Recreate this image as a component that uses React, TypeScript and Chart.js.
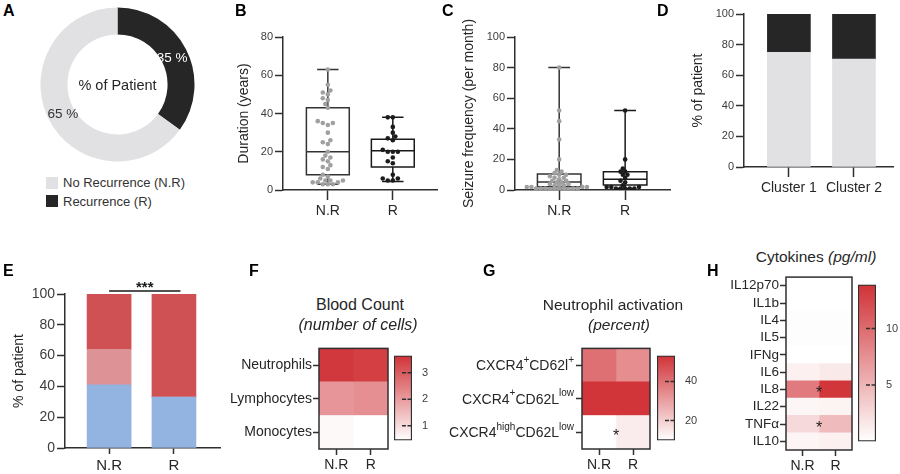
import React, { useEffect, useRef } from 'react';
import { Chart, registerables } from 'chart.js';

Chart.register(...registerables);

const FONT = '"Liberation Sans", Arial, Helvetica, sans-serif';
const AXIS = '#2f2f2f';
const TICK = '#3d3d3d';
const LABEL = '#262626';
Chart.defaults.font.family = FONT;
Chart.defaults.color = TICK;
Chart.defaults.maintainAspectRatio = false;

// ---------------- data ----------------
// A
const patientGroups = ['Recurrence (R)', 'No Recurrence (N.R)'];
const patientShare = [35, 65];
const patientColors = ['#262626', '#e1e1e3'];
const patientTextColors = ['#ffffff', '#333333'];
const legendGroups = ['No Recurrence (N.R)', 'Recurrence (R)'];
const legendColors = ['#e1e1e3', '#262626'];

// shared groups
const groupLabels = ['N.R', 'R'];

// B
const durationNR = [63, 55, 52, 51, 50, 48, 47, 45, 43, 36, 35, 35, 34, 30, 26, 25, 24, 20, 18, 17, 16, 15, 13, 12, 11, 8, 7, 6, 5, 5, 5, 4, 4, 4, 3, 3, 3];
const durationR = [38, 38, 33, 30, 28, 27, 26, 21, 20, 20, 20, 17, 15, 14, 8, 6, 6, 5, 5];
const durationBoxNR = [3, 8, 20, 43, 63]; // min, q1, median, q3, max
const durationBoxR = [4.5, 12, 20.5, 26.5, 38];
const durationTicks = [0, 20, 40, 60, 80];

// C
const seizureNR = [80, 52, 45, 33, 20, 13, 12, 11, 10, 10, 9, 8, 8, 7, 6, 6, 5, 5, 4, 4, 3, 3, 3, 2, 2, 2, 2, 1, 1, 1, 1, 1, 0.5, 0.5, 0.5, 0.5, 0.5];
const seizureR = [52, 20, 14, 12, 12, 10, 10, 8, 6, 5, 3, 2, 2, 2, 1, 1, 1, 1, 1];
const seizureBoxNR = [0.5, 2.2, 5.3, 10.5, 80];
const seizureBoxR = [1, 3.3, 7, 12, 52];
const percentTicks = [0, 20, 40, 60, 80, 100];

// D
const clusterLabels = ['Cluster 1', 'Cluster 2'];
const clusterNoRecurrence = [75, 70.5];
const clusterRecurrence = [25, 29.5];

// E
const profileBlue = [41, 33];
const profilePink = [23, 0];
const profileRed = [36, 67];
const significanceSpan = [0, 1.1];
const significanceText = '***';

// F
const bloodRows = ['Neutrophils', 'Lymphocytes', 'Monocytes'];
const bloodNR = [3.55, 2.1, 0.55];
const bloodR = [3.45, 2.2, 0.45];
const bloodRange = [0.45, 3.65];
const bloodTicks = [1, 2, 3];

// G
const activationRows = ['CXCR4+CD62l+', 'CXCR4+CD62Llow', 'CXCR4highCD62Llow'];
const activationLabelParts: [string, boolean][][] = [
  [['CXCR4', false], ['+', true], ['CD62l', false], ['+', true]],
  [['CXCR4', false], ['+', true], ['CD62L', false], ['low', true]],
  [['CXCR4', false], ['high', true], ['CD62L', false], ['low', true]],
];
const activationNR = [40, 52.5, 9.8];
const activationR = [34, 52.5, 14];
const activationRange = [9.8, 53.2];
const activationTicks = [20, 40];
const activationStars = ['CXCR4highCD62Llow'];

// H
const cytokineRows = ['IL12p70', 'IL1b', 'IL4', 'IL5', 'IFNg', 'IL6', 'IL8', 'IL22', 'TNFα', 'IL10'];
const cytokineNR = [0, 0, 0.15, 0.15, 0, 1.0, 9.0, 0.6, 2.6, 0.7];
const cytokineR = [0, 0, 0.15, 0.15, 0, 1.5, 13.6, 0.8, 4.6, 1.0];
const cytokineRange = [0, 13.9];
const cytokineTicks = [5, 10];
const cytokineStars = ['IL8', 'TNFα'];

// ---------------- helpers ----------------
type Box = [number, number, number, number];
type Area = { l: number; t: number; r: number; b: number };

const HOT = [208, 50, 55];
function heat(v: number, range: number[]) {
  const t = Math.max(0, Math.min(1, (v - range[0]) / (range[1] - range[0])));
  const c = HOT.map((h) => Math.round(255 + (h - 255) * t));
  return `rgb(${c[0]},${c[1]},${c[2]})`;
}

function swarm(values: number[], group: number, pxPerY: number, pxPerX = 65, d = 4.2) {
  const placed: { px: number; py: number }[] = [];
  const out: { x: number; y: number }[] = [];
  [...values].sort((a, b) => a - b).forEach((v) => {
    const py = v * pxPerY;
    for (let k = 0; k < 60; k++) {
      const px = (k % 2 === 0 ? 1 : -1) * Math.ceil(k / 2) * d * 0.6;
      if (placed.every((p) => Math.hypot(p.px - px, p.py - py) >= d)) {
        placed.push({ px, py });
        out.push({ x: group + px / pxPerX, y: v });
        break;
      }
    }
  });
  return out;
}

function cartesian(area: Area, titleX: number, titleSize: number, hx: number, padTop = 12) {
  const scaleLeft = titleX - (titleSize * 1.2) / 2;
  const cx = Math.floor(scaleLeft - 3);
  const cy = area.t - padTop;
  const box: Box = [cx, cy, Math.ceil(area.r + 6 - cx), Math.ceil(area.b + hx + 4 - cy)];
  const padding = {
    left: scaleLeft - cx,
    top: padTop,
    right: box[0] + box[2] - area.r,
    bottom: box[1] + box[3] - area.b - hx,
  };
  return { box, padding, wy: area.l - scaleLeft, hx, area };
}

function yAxis(min: number, max: number, ticks: number[], title: string, wy: number, tickSize: number) {
  return {
    type: 'linear',
    min,
    max,
    afterBuildTicks: (s: any) => {
      s.ticks = ticks.map((v) => ({ value: v }));
    },
    afterFit: (s: any) => {
      s.width = wy;
    },
    ticks: { color: TICK, font: { family: FONT, size: tickSize }, padding: 2 },
    grid: { drawOnChartArea: false, drawTicks: true, tickLength: 8, tickColor: AXIS, tickWidth: 1.5 },
    border: { display: true, color: AXIS, width: 1.5 },
    title: { display: true, text: title, color: LABEL, font: { family: FONT, size: 14 }, padding: 0 },
  };
}

function xAxis(min: number, max: number, labels: string[], hx: number, size: number) {
  return {
    type: 'linear',
    min,
    max,
    offset: false,
    afterBuildTicks: (s: any) => {
      s.ticks = labels.map((_, i) => ({ value: i }));
    },
    afterFit: (s: any) => {
      s.height = hx;
    },
    ticks: {
      callback: (v: any) => labels[Math.round(Number(v))] ?? '',
      color: LABEL,
      font: { family: FONT, size },
      padding: 3,
      maxRotation: 0,
      autoSkip: false,
    },
    grid: { drawOnChartArea: false, offset: false, drawTicks: true, tickLength: 10, tickColor: AXIS, tickWidth: 1.5 },
    border: { display: true, color: AXIS, width: 1.5 },
  };
}

const quiet = { legend: { display: false }, tooltip: { enabled: false } };

// ---------------- plugins ----------------
const donutText = {
  id: 'donutText',
  afterDraw(chart: any) {
    const { ctx } = chart;
    const meta = chart.getDatasetMeta(0);
    ctx.save();
    ctx.textAlign = 'center';
    ctx.textBaseline = 'middle';
    meta.data.forEach((arc: any, i: number) => {
      const p = arc.getProps(['x', 'y', 'startAngle', 'endAngle', 'innerRadius', 'outerRadius']);
      const a = (p.startAngle + p.endAngle) / 2;
      const rr = p.innerRadius + (p.outerRadius - p.innerRadius) * 0.42;
      ctx.fillStyle = patientTextColors[i];
      ctx.font = `13.5px ${FONT}`;
      ctx.fillText(`${chart.data.datasets[0].data[i]} %`, p.x + Math.cos(a) * rr, p.y + Math.sin(a) * rr + 2);
    });
    const c = meta.data[0];
    ctx.fillStyle = LABEL;
    ctx.font = `14.5px ${FONT}`;
    ctx.fillText('% of Patient', c.x, c.y + 1);
    ctx.restore();
  },
};

const boxPlotPlugin = {
  id: 'boxPlots',
  beforeDatasetsDraw(chart: any, _a: any, o: any) {
    const { ctx, scales } = chart;
    const x = scales.x;
    const y = scales.y;
    ctx.save();
    ctx.lineWidth = 1.5;
    o.boxes.forEach((b: any) => {
      const [mn, q1, md, q3, mx] = b.stats;
      const cx = x.getPixelForValue(b.x);
      const hw = x.getPixelForValue(b.x + 0.33) - cx;
      const cw = x.getPixelForValue(b.x + 0.165) - cx;
      const py = (v: number) => y.getPixelForValue(v);
      ctx.strokeStyle = b.color;
      ctx.beginPath();
      ctx.rect(cx - hw, py(q3), 2 * hw, py(q1) - py(q3));
      ctx.moveTo(cx - hw, py(md));
      ctx.lineTo(cx + hw, py(md));
      ctx.moveTo(cx, py(q3));
      ctx.lineTo(cx, py(mx));
      ctx.moveTo(cx, py(q1));
      ctx.lineTo(cx, py(mn));
      ctx.moveTo(cx - cw, py(mx));
      ctx.lineTo(cx + cw, py(mx));
      ctx.moveTo(cx - cw, py(mn));
      ctx.lineTo(cx + cw, py(mn));
      ctx.stroke();
    });
    ctx.restore();
  },
};

const bracketPlugin = {
  id: 'bracket',
  afterDraw(chart: any, _a: any, o: any) {
    const { ctx, scales, chartArea } = chart;
    const x = scales.x;
    const y = chartArea.top - 3;
    const x1 = x.getPixelForValue(o.span[0]);
    const x2 = x.getPixelForValue(o.span[1]);
    ctx.save();
    ctx.strokeStyle = '#1a1a1a';
    ctx.lineWidth = 1.5;
    ctx.beginPath();
    ctx.moveTo(x1, y);
    ctx.lineTo(x2, y);
    ctx.stroke();
    ctx.fillStyle = '#1a1a1a';
    ctx.font = `bold 15px ${FONT}`;
    ctx.textAlign = 'center';
    ctx.textBaseline = 'alphabetic';
    ctx.fillText(o.text, (x1 + x2) / 2, y + 1);
    ctx.restore();
  },
};

const framePlugin = {
  id: 'frame',
  afterDatasetsDraw(chart: any) {
    const { ctx, chartArea: a } = chart;
    ctx.save();
    ctx.strokeStyle = AXIS;
    ctx.lineWidth = 1.5;
    ctx.strokeRect(a.left, a.top, a.right - a.left, a.bottom - a.top);
    ctx.restore();
  },
};

const starPlugin = {
  id: 'cellStars',
  afterDatasetsDraw(chart: any, _a: any, o: any) {
    if (!o || !o.rows) return;
    const { ctx, scales } = chart;
    ctx.save();
    ctx.fillStyle = '#222';
    ctx.font = `16px ${FONT}`;
    ctx.textAlign = 'center';
    ctx.textBaseline = 'alphabetic';
    o.rows.forEach((r: number) => {
      ctx.fillText('*', scales.x.getPixelForValue(1), scales.y.getPixelForValue(r) + 9);
    });
    ctx.restore();
  },
};

const richLabelPlugin = {
  id: 'richLabels',
  afterDraw(chart: any, _a: any, o: any) {
    if (!o || !o.parts) return;
    const { ctx, scales, chartArea } = chart;
    const fontFor = (sup: boolean) => (sup ? `10px ${FONT}` : `14px ${FONT}`);
    ctx.save();
    ctx.fillStyle = LABEL;
    ctx.textBaseline = 'middle';
    ctx.textAlign = 'left';
    o.parts.forEach((segs: [string, boolean][], i: number) => {
      const widths = segs.map(([t, sup]) => {
        ctx.font = fontFor(sup);
        return ctx.measureText(t).width;
      });
      const total = widths.reduce((a, b) => a + b, 0);
      let xx = chartArea.left - 8 - total;
      const yy = scales.y.getPixelForValue(i);
      segs.forEach(([t, sup], k) => {
        ctx.font = fontFor(sup);
        ctx.fillText(t, xx, sup ? yy - 5 : yy + 1);
        xx += widths[k];
      });
    });
    ctx.restore();
  },
};

const colorbarTicks = {
  id: 'cbTicks',
  afterDatasetsDraw(chart: any) {
    const { ctx, scales, chartArea } = chart;
    ctx.save();
    ctx.strokeStyle = AXIS;
    ctx.lineWidth = 1.5;
    ctx.setLineDash([4, 1.5]);
    scales.y.ticks.forEach((t: any) => {
      const y = scales.y.getPixelForValue(t.value);
      ctx.beginPath();
      ctx.moveTo(chartArea.right - 10, y);
      ctx.lineTo(chartArea.right + 1, y);
      ctx.stroke();
    });
    ctx.restore();
  },
};

// ---------------- chart factories ----------------
const donutBox: Box = [40, 7, 155, 155];
const makeDonut = () => ({
  type: 'doughnut',
  data: {
    labels: patientGroups,
    datasets: [{ data: patientShare, backgroundColor: patientColors, borderWidth: 0 }],
  },
  options: {
    responsive: false,
    maintainAspectRatio: false,
    animation: false,
    cutout: '65%',
    radius: 77,
    layout: { padding: 0 },
    plugins: quiet,
  },
  plugins: [donutText],
});

const bGeo = cartesian({ l: 283, t: 37, r: 437, b: 190 }, 244, 14, 32);
const makeB = () => ({
  type: 'scatter',
  data: {
    datasets: [
      { data: swarm(durationNR, 0, 153 / 80), backgroundColor: '#a0a0a0', pointRadius: 2.3, borderWidth: 0 },
      { data: swarm(durationR, 1, 153 / 80), backgroundColor: '#1c1c1c', pointRadius: 2.3, borderWidth: 0 },
    ],
  },
  options: {
    responsive: false,
    animation: false,
    layout: { padding: bGeo.padding },
    plugins: {
      ...quiet,
      boxPlots: {
        boxes: [
          { x: 0, stats: durationBoxNR, color: '#333' },
          { x: 1, stats: durationBoxR, color: '#1a1a1a' },
        ],
      },
    },
    scales: {
      x: xAxis(-0.69, 1.68, groupLabels, bGeo.hx, 14),
      y: yAxis(0, 80, durationTicks, 'Duration (years)', bGeo.wy, 11),
    },
  },
  plugins: [boxPlotPlugin],
});

const cGeo = cartesian({ l: 515, t: 37, r: 670, b: 190 }, 469, 14, 32, 34);
const makeC = () => ({
  type: 'scatter',
  data: {
    datasets: [
      { data: swarm(seizureNR, 0, 153 / 100, 65, 3.8), backgroundColor: '#a0a0a0', pointRadius: 2.3, borderWidth: 0 },
      { data: swarm(seizureR, 1, 153 / 100, 65, 3.8), backgroundColor: '#1c1c1c', pointRadius: 2.3, borderWidth: 0 },
    ],
  },
  options: {
    responsive: false,
    animation: false,
    layout: { padding: cGeo.padding },
    plugins: {
      ...quiet,
      boxPlots: {
        boxes: [
          { x: 0, stats: seizureBoxNR, color: '#333' },
          { x: 1, stats: seizureBoxR, color: '#1a1a1a' },
        ],
      },
    },
    scales: {
      x: xAxis(-0.67, 1.68, groupLabels, cGeo.hx, 14),
      y: yAxis(0, 100, percentTicks, 'Seizure frequency (per month)', cGeo.wy, 11),
    },
  },
  plugins: [boxPlotPlugin],
});

const dGeo = cartesian({ l: 744, t: 14, r: 893, b: 167 }, 698, 14, 32, 12);
const makeD = () => ({
  type: 'bar',
  data: {
    datasets: [
      { data: clusterNoRecurrence.map((v, i) => ({ x: i, y: [0, v] })), backgroundColor: '#e1e1e3' },
      {
        data: clusterRecurrence.map((v, i) => ({ x: i, y: [clusterNoRecurrence[i], clusterNoRecurrence[i] + v] })),
        backgroundColor: '#262626',
      },
    ],
  },
  options: {
    responsive: false,
    animation: false,
    layout: { padding: dGeo.padding },
    datasets: { bar: { barThickness: 43, grouped: false, borderWidth: 0 } },
    plugins: quiet,
    scales: {
      x: xAxis(-0.69, 1.6, clusterLabels, dGeo.hx, 14),
      y: yAxis(0, 100, percentTicks, '% of patient', dGeo.wy, 11),
    },
  },
});

const eGeo = cartesian({ l: 65, t: 294, r: 220, b: 448 }, 19, 14, 28, 20);
const makeE = () => {
  const mid = profileBlue.map((v, i) => v + profilePink[i]);
  return {
    type: 'bar',
    data: {
      datasets: [
        { data: profileBlue.map((v, i) => ({ x: i, y: [0, v] })), backgroundColor: '#93b3e0' },
        { data: profilePink.map((v, i) => ({ x: i, y: [profileBlue[i], mid[i]] })), backgroundColor: '#dd9295' },
        { data: profileRed.map((v, i) => ({ x: i, y: [mid[i], mid[i] + v] })), backgroundColor: '#d05153' },
      ],
    },
    options: {
      responsive: false,
      animation: false,
      layout: { padding: eGeo.padding },
      datasets: { bar: { barThickness: 44, grouped: false, borderWidth: 0 } },
      plugins: { ...quiet, bracket: { span: significanceSpan, text: significanceText } },
      scales: {
        x: { ...xAxis(-0.68, 1.71, groupLabels, eGeo.hx, 15), grid: { drawOnChartArea: false, offset: false, tickLength: 6, tickColor: AXIS, tickWidth: 1.5 } },
        y: yAxis(0, 100, percentTicks, '% of patient', eGeo.wy, 14),
      },
    },
    plugins: [bracketPlugin],
  };
};

function heatGeo(area: Area, labelLeft: number) {
  const cx = labelLeft - 4;
  const cy = area.t - 8;
  const hx = 24;
  const box: Box = [cx, cy, area.r + 4 - cx, area.b + hx + 4 - cy];
  return { box, padding: { left: 2, top: 8, right: 4, bottom: 4 }, wy: area.l - cx - 2, hx };
}

function makeHeat(
  geo: any,
  rows: string[],
  nr: number[],
  r: number[],
  range: number[],
  labelSize: number,
  starRows: string[],
  parts?: [string, boolean][][],
) {
  return () => ({
    type: 'bar',
    data: {
      labels: rows,
      datasets: [
        { data: rows.map(() => [0, 1]), backgroundColor: nr.map((v) => heat(v, range)) },
        { data: rows.map(() => [1, 2]), backgroundColor: r.map((v) => heat(v, range)) },
      ],
    },
    options: {
      indexAxis: 'y',
      responsive: false,
      animation: false,
      layout: { padding: geo.padding },
      datasets: { bar: { barPercentage: 1, categoryPercentage: 1, grouped: false, borderWidth: 0 } },
      plugins: {
        ...quiet,
        cellStars: { rows: starRows.map((s) => rows.indexOf(s)) },
        richLabels: parts ? { parts } : {},
      },
      scales: {
        y: {
          type: 'category',
          offset: true,
          afterFit: (s: any) => {
            s.width = geo.wy;
          },
          ticks: {
            callback: (v: any, i: number) => (parts ? '' : rows[i]),
            color: LABEL,
            font: { family: FONT, size: labelSize },
            padding: 1,
            autoSkip: false,
          },
          grid: { drawOnChartArea: false, offset: false, drawTicks: true, tickLength: 6, tickColor: AXIS, tickWidth: 1.5 },
          border: { display: false },
        },
        x: {
          type: 'linear',
          min: 0,
          max: 2,
          afterBuildTicks: (s: any) => {
            s.ticks = groupLabels.map((_, i) => ({ value: i + 0.5 }));
          },
          afterFit: (s: any) => {
            s.height = geo.hx;
          },
          ticks: {
            callback: (v: any) => groupLabels[Math.floor(Number(v))] ?? '',
            color: LABEL,
            font: { family: FONT, size: 14 },
            padding: 2,
            maxRotation: 0,
            autoSkip: false,
          },
          grid: { drawOnChartArea: false, offset: false, drawTicks: true, tickLength: 6, tickColor: AXIS, tickWidth: 1.5 },
          border: { display: false },
        },
      },
    },
    plugins: [framePlugin, starPlugin, richLabelPlugin],
  });
}

function cbGeo(area: Area, labelW = 26) {
  const box: Box = [area.l - 2, area.t - 8, area.r - area.l + 4 + labelW, area.b - area.t + 16];
  return { box, padding: { left: 2, top: 8, right: 2, bottom: 8 }, labelW };
}

function makeColorbar(geo: any, range: number[], ticks: number[]) {
  return () => ({
    type: 'bar',
    data: {
      labels: [''],
      datasets: [
        {
          data: [range],
          backgroundColor: (c: any) => {
            const a = c.chart.chartArea;
            if (!a) return heat(range[1], range);
            const g = c.chart.ctx.createLinearGradient(0, a.bottom, 0, a.top);
            for (let i = 0; i <= 10; i++) {
              g.addColorStop(i / 10, heat(range[0] + ((range[1] - range[0]) * i) / 10, range));
            }
            return g;
          },
          borderColor: AXIS,
          borderWidth: 1.5,
          borderSkipped: false,
        },
      ],
    },
    options: {
      responsive: false,
      animation: false,
      layout: { padding: geo.padding },
      datasets: { bar: { barPercentage: 1, categoryPercentage: 1 } },
      plugins: quiet,
      scales: {
        x: { display: false },
        y: {
          position: 'right',
          min: range[0],
          max: range[1],
          afterBuildTicks: (s: any) => {
            s.ticks = ticks.map((v) => ({ value: v }));
          },
          afterFit: (s: any) => {
            s.width = geo.labelW;
          },
          ticks: { color: TICK, font: { family: FONT, size: 11 }, padding: 10 },
          grid: { display: false, drawTicks: false },
          border: { display: false },
        },
      },
    },
    plugins: [colorbarTicks],
  });
}

const fGeo = heatGeo({ l: 319, t: 347, r: 388, b: 449 }, 226);
const gGeo = heatGeo({ l: 582, t: 347, r: 650, b: 449 }, 442);
const hGeo = heatGeo({ l: 786, t: 276, r: 852, b: 450 }, 725);
const fCb = cbGeo({ l: 394, t: 347, r: 412, b: 449 });
const gCb = cbGeo({ l: 657, t: 347, r: 675, b: 449 });
const hCb = cbGeo({ l: 858, t: 276, r: 876, b: 450 });

// ---------------- components ----------------
function ChartCanvas({ box, make }: { box: Box; make: () => any }) {
  const ref = useRef<HTMLCanvasElement | null>(null);
  useEffect(() => {
    if (!ref.current) return;
    const chart = new Chart(ref.current, make());
    return () => chart.destroy();
  }, []);
  return (
    <div style={{ position: 'absolute', left: box[0], top: box[1], width: box[2], height: box[3] }}>
      <canvas ref={ref} width={box[2]} height={box[3]} style={{ display: 'block', width: box[2], height: box[3] }} />
    </div>
  );
}

function Letter({ x, y, children }: { x: number; y: number; children: string }) {
  return (
    <div
      style={{
        position: 'absolute',
        left: x,
        top: y,
        font: `bold 16px ${FONT}`,
        lineHeight: '16px',
        color: '#000',
      }}
    >
      {children}
    </div>
  );
}

function Title({ cx, cy, children, size = 16 }: { cx: number; cy: number; children: any; size?: number }) {
  return (
    <div
      style={{
        position: 'absolute',
        left: cx - 110,
        top: cy - 10,
        width: 220,
        textAlign: 'center',
        font: `${size}px ${FONT}`,
        lineHeight: '20px',
        color: LABEL,
        whiteSpace: 'nowrap',
      }}
    >
      {children}
    </div>
  );
}

export default function App() {
  return (
    <div
      style={{
        position: 'fixed',
        left: 0,
        top: 0,
        width: 900,
        height: 474,
        background: '#fff',
        overflow: 'hidden',
        fontFamily: FONT,
      }}
    >
      <ChartCanvas box={donutBox} make={makeDonut} />
      <ChartCanvas box={bGeo.box} make={makeB} />
      <ChartCanvas box={cGeo.box} make={makeC} />
      <ChartCanvas box={dGeo.box} make={makeD} />
      <ChartCanvas box={eGeo.box} make={makeE} />
      <ChartCanvas box={fGeo.box} make={makeHeat(fGeo, bloodRows, bloodNR, bloodR, bloodRange, 14, [])} />
      <ChartCanvas
        box={gGeo.box}
        make={makeHeat(gGeo, activationRows, activationNR, activationR, activationRange, 14, activationStars, activationLabelParts)}
      />
      <ChartCanvas box={hGeo.box} make={makeHeat(hGeo, cytokineRows, cytokineNR, cytokineR, cytokineRange, 13.5, cytokineStars)} />
      <ChartCanvas box={fCb.box} make={makeColorbar(fCb, bloodRange, bloodTicks)} />
      <ChartCanvas box={gCb.box} make={makeColorbar(gCb, activationRange, activationTicks)} />
      <ChartCanvas box={hCb.box} make={makeColorbar(hCb, cytokineRange, cytokineTicks)} />

      {legendGroups.map((g, i) => (
        <div key={g} style={{ position: 'absolute', left: 46, top: 176 + i * 18.5, height: 13, display: 'flex', alignItems: 'center' }}>
          <span style={{ display: 'inline-block', width: 12, height: 12, background: legendColors[i] }} />
          <span style={{ marginLeft: 5, font: `13px ${FONT}`, color: '#333', lineHeight: '13px' }}>{g}</span>
        </div>
      ))}

      <Title cx={360} cy={305}>Blood Count</Title>
      <Title cx={358} cy={325}>
        <i>(number of cells)</i>
      </Title>
      <Title cx={613} cy={305} size={15.5}>Neutrophil activation</Title>
      <Title cx={619} cy={325} size={15.5}>
        <i>(percent)</i>
      </Title>
      <Title cx={816} cy={257} size={15.5}>
        Cytokines <i>(pg/ml)</i>
      </Title>

      <Letter x={3} y={3}>A</Letter>
      <Letter x={235} y={3}>B</Letter>
      <Letter x={442} y={3}>C</Letter>
      <Letter x={657} y={3}>D</Letter>
      <Letter x={3} y={263}>E</Letter>
      <Letter x={249} y={263}>F</Letter>
      <Letter x={483} y={263}>G</Letter>
      <Letter x={707} y={263}>H</Letter>
    </div>
  );
}
